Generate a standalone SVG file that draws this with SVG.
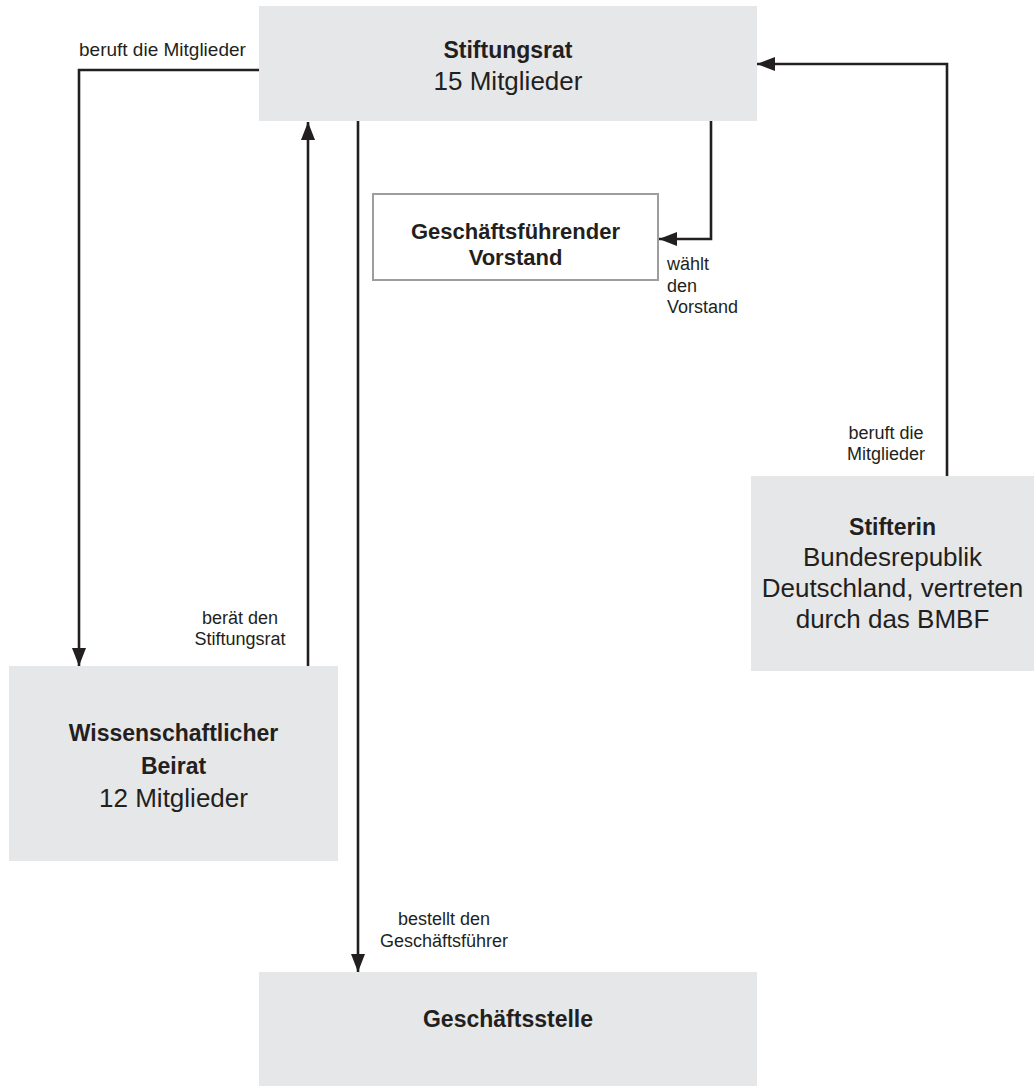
<svg xmlns="http://www.w3.org/2000/svg" width="1036" height="1091" viewBox="0 0 1036 1091">
<style>
.box{fill:#e6e7e9;}
.obox{fill:#ffffff;stroke:#9d9d9d;stroke-width:2;}
.b{font-family:"Liberation Sans",Arial,sans-serif;font-weight:bold;font-size:23px;fill:#231f20;text-anchor:middle;}
.bs{font-size:22px;}
.r{font-family:"Liberation Sans",Arial,sans-serif;font-size:26px;fill:#231f20;text-anchor:middle;}
.l{font-family:"Liberation Sans",Arial,sans-serif;font-size:18px;fill:#231f20;}
.c{text-anchor:middle;}
.conn{fill:none;stroke:#231f20;stroke-width:2.6;marker-end:url(#arr);}
</style>
<defs>
<marker id="arr" markerUnits="userSpaceOnUse" markerWidth="18" markerHeight="14" refX="18" refY="7" orient="auto">
<path d="M0,0 L18,7 L0,14 z" fill="#231f20"/>
</marker>
</defs>
<rect width="1036" height="1091" fill="#ffffff"/>
<g id="stiftungsrat">
<rect class="box" x="259" y="6" width="498" height="115"/>
<text class="b" x="508" y="58">Stiftungsrat</text>
<text class="r" x="508" y="90">15 Mitglieder</text>
</g>
<g id="vorstand">
<rect class="obox" x="373" y="194" width="285" height="86"/>
<text class="b bs" x="515.5" y="239">Geschäftsführender</text>
<text class="b bs" x="515.5" y="265">Vorstand</text>
</g>
<g id="beirat">
<rect class="box" x="9" y="666" width="329" height="195"/>
<text class="b" x="173.5" y="741">Wissenschaftlicher</text>
<text class="b" x="173.5" y="774">Beirat</text>
<text class="r" x="173.5" y="807">12 Mitglieder</text>
</g>
<g id="stifterin">
<rect class="box" x="751" y="476" width="283" height="195"/>
<text class="b" x="892.5" y="535">Stifterin</text>
<text class="r" x="892.5" y="566">Bundesrepublik</text>
<text class="r" x="892.5" y="597">Deutschland, vertreten</text>
<text class="r" x="892.5" y="628">durch das BMBF</text>
</g>
<g id="geschaeftsstelle">
<rect class="box" x="259" y="972" width="498" height="114"/>
<text class="b" x="508" y="1027">Geschäftsstelle</text>
</g>
<g id="connectors">
<path class="conn" d="M259,70 H79 V666"/>
<path class="conn" d="M308,666 V122"/>
<path class="conn" d="M358,121 V972"/>
<path class="conn" d="M711,121 V239 H659"/>
<path class="conn" d="M947,476 V64 H757"/>
</g>
<g id="labels">
<text class="l" x="79" y="56" style="font-size:19px">beruft die Mitglieder</text>
<text class="l c" x="240" y="624">berät den</text>
<text class="l c" x="240" y="645">Stiftungsrat</text>
<text class="l c" x="444" y="925">bestellt den</text>
<text class="l c" x="444" y="947">Geschäftsführer</text>
<text class="l" x="667" y="270">wählt</text>
<text class="l" x="667" y="292">den</text>
<text class="l" x="667" y="313">Vorstand</text>
<text class="l c" x="886" y="439">beruft die</text>
<text class="l c" x="886" y="460">Mitglieder</text>
</g>
</svg>
